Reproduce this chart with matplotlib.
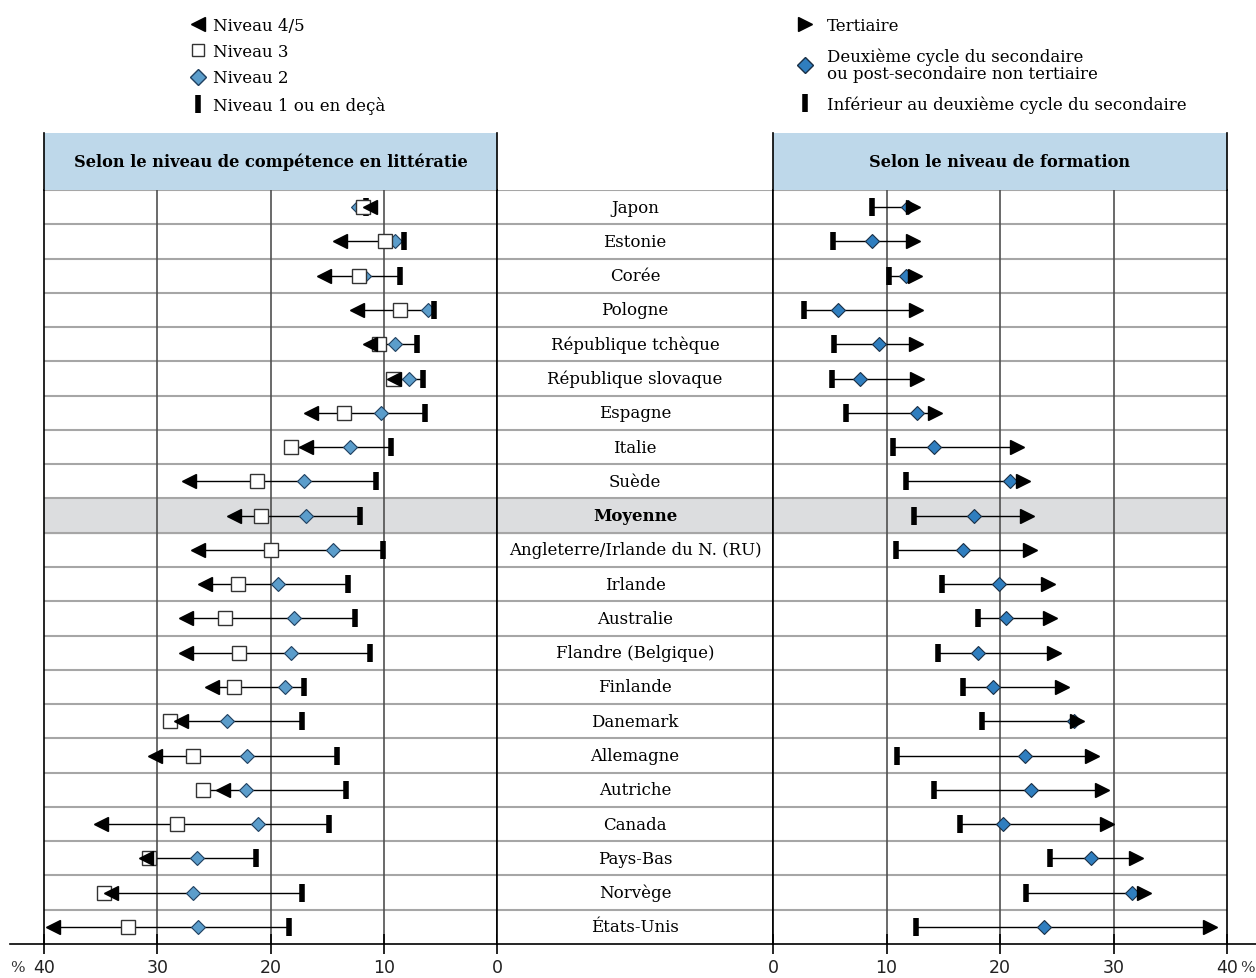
import matplotlib
matplotlib.use("Agg")
import matplotlib.pyplot as plt
from matplotlib.lines import Line2D
import numpy as np

# Pays (de haut en bas)
pays = ["Japon", "Estonie", "Corée", "Pologne", "République tchèque",
        "République slovaque", "Espagne", "Italie", "Suède", "Moyenne",
        "Angleterre/Irlande du N. (RU)", "Irlande", "Australie",
        "Flandre (Belgique)", "Finlande", "Danemark", "Allemagne", "Autriche",
        "Canada", "Pays-Bas", "Norvège", "États-Unis"]

# Selon le niveau de compétence en littératie (%)
niv45 = [11.2, 13.9, 15.3, 12.4, 11.2, 9.1, 16.4, 16.9, 27.2, 23.2, 26.4,
         25.8, 27.5, 27.5, 25.2, 27.9, 30.2, 24.2, 35.0, 31.0, 34.1, 39.2]
niv3 = [11.8, 9.9, 12.2, 8.6, 10.4, 9.2, 13.5, 18.2, 21.2, 20.8, 20.0,
        22.9, 24.0, 22.8, 23.2, 28.9, 26.8, 26.0, 28.3, 30.7, 34.7, 32.6]
niv2 = [12.3, 9.0, 11.7, 6.1, 9.0, 7.8, 10.2, 13.0, 17.0, 16.9, 14.5,
        19.3, 17.9, 18.2, 18.7, 23.8, 22.1, 22.2, 21.1, 26.5, 26.8, 26.4]
niv1 = [11.6, 8.2, 8.6, 5.6, 7.1, 6.5, 6.4, 9.4, 10.7, 12.1, 10.1,
        13.2, 12.5, 11.2, 17.0, 17.2, 14.1, 13.3, 14.8, 21.3, 17.2, 18.4]

# Selon le niveau de formation (%)
tertiaire = [12.3, 12.3, 12.5, 12.6, 12.6, 12.7, 14.3, 21.5, 22.0, 22.4, 22.6,
             24.2, 24.4, 24.8, 25.5, 26.8, 28.1, 29.0, 29.4, 32.0, 32.7, 38.5]
secondaire = [11.9, 8.7, 11.7, 5.7, 9.3, 7.7, 12.7, 14.2, 20.9, 17.7, 16.7,
              19.9, 20.5, 18.1, 19.4, 26.5, 22.2, 22.7, 20.3, 28.0, 31.6, 23.9]
inferieur = [8.7, 5.3, 10.2, 2.7, 5.4, 5.2, 6.4, 10.6, 11.7, 12.4, 10.8,
             14.9, 18.1, 14.5, 16.7, 18.4, 10.9, 14.2, 16.5, 24.4, 22.3, 12.6]

ticks = [40, 30, 20, 10, 0]

serif = "DejaVu Serif"
bleu_clair = "#5b9dcb"
bleu_fonce = "#2f7ebf"
gris_ligne = "#a6a6a6"
gris_moy = "#dcdddf"
entete = "#bed8ea"

n = len(pays)
y = np.arange(n)
i_moy = pays.index("Moyenne")

W, H = 1256, 979
fig = plt.figure(figsize=(W / 100, H / 100), dpi=100)

bas = 1 - 945 / H
haut = 1 - 191 / H
ax_g = fig.add_axes([44 / W, bas, (497 - 44) / W, haut - bas])
ax_m = fig.add_axes([497 / W, bas, (773 - 497) / W, haut - bas])
ax_d = fig.add_axes([773 / W, bas, (1227 - 773) / W, haut - bas])

for ax in (ax_g, ax_m, ax_d):
    ax.set_ylim(n - 0.5, -0.5)
    ax.axhspan(i_moy - 0.5, i_moy + 0.5, color=gris_moy, zorder=0)
    for b in np.arange(-0.5, n - 0.5):
        ax.axhline(b, color=gris_ligne, lw=1.5, zorder=1)
    ax.set_yticks([])
    ax.spines["top"].set_visible(False)
    ax.spines["bottom"].set_visible(False)
    ax.spines["left"].set_color("black")
    ax.spines["right"].set_color("black")
    ax.spines["left"].set_linewidth(1.2)
    ax.spines["right"].set_linewidth(1.2)

ax_g.set_xlim(40, 0)
ax_d.set_xlim(0, 40)
ax_m.set_xlim(0, 1)
ax_m.set_xticks([])

for ax in (ax_g, ax_d):
    for v in [10, 20, 30]:
        ax.axvline(v, color="#505050", lw=1.2, zorder=1.5)
    ax.set_xticks(ticks)
    ax.set_xticklabels([str(t) for t in ticks])
    ax.tick_params(axis="x", direction="inout", length=14, width=1.2,
                   labelsize=12.5, pad=3, color="black", labelcolor="#222222")

# littératie
for i in range(n):
    vals = [niv45[i], niv3[i], niv2[i], niv1[i]]
    ax_g.plot([min(vals), max(vals)], [i, i], color="black", lw=1, zorder=2)
ax_g.plot(niv2, y, ls="none", marker="D", ms=7.5, mfc=bleu_clair, mec="#1f3f5f",
          mew=0.8, zorder=3)
ax_g.plot(niv1, y, ls="none", marker="|", ms=13.5, mew=4, color="black", zorder=3.5)
ax_g.plot(niv3, y, ls="none", marker="s", ms=10, mfc="white", mec="#333333",
          mew=1, zorder=4)
ax_g.plot(niv45, y, ls="none", marker="<", ms=10, color="black", zorder=5)

# formation
for i in range(n):
    vals = [tertiaire[i], secondaire[i], inferieur[i]]
    ax_d.plot([min(vals), max(vals)], [i, i], color="black", lw=1, zorder=2)
ax_d.plot(inferieur, y, ls="none", marker="|", ms=13.5, mew=4, color="black", zorder=3)
ax_d.plot(secondaire, y, ls="none", marker="D", ms=7.5, mfc=bleu_fonce, mec="#1a2f45",
          mew=0.8, zorder=4)
ax_d.plot(tertiaire, y, ls="none", marker=">", ms=10, color="black", zorder=5)

# noms des pays
for i, p in enumerate(pays):
    ax_m.text(0.5, i, p, ha="center", va="center", family=serif, fontsize=12,
              fontweight="bold" if p == "Moyenne" else "normal", zorder=3)

# en-têtes
for x0, x1, titre in [(44, 497, "Selon le niveau de compétence en littératie"),
                      (773, 1227, "Selon le niveau de formation")]:
    axh = fig.add_axes([x0 / W, haut, (x1 - x0) / W, (191 - 134) / H])
    axh.set_facecolor(entete)
    axh.set_xticks([])
    axh.set_yticks([])
    axh.spines["top"].set_visible(False)
    axh.spines["bottom"].set_visible(False)
    axh.spines["left"].set_linewidth(1.2)
    axh.spines["right"].set_linewidth(1.2)
    axh.text(0.5, 0.5, titre, ha="center", va="center", family=serif,
             fontsize=11.7, fontweight="bold", transform=axh.transAxes)

# ligne d'axe en bas
fig.add_artist(Line2D([10 / W, 1], [bas, bas], color="black", lw=1.2))
fig.text(10 / W, 1 - 968 / H, "%", family=serif, fontsize=11, va="center", ha="left",
         color="#333333")
fig.text(1240 / W, 1 - 968 / H, "%", family=serif, fontsize=11, va="center", ha="left",
         color="#333333")

# légendes
leg_g = [Line2D([], [], ls="none", marker="<", ms=10, color="black"),
         Line2D([], [], ls="none", marker="s", ms=9, mfc="white", mec="#333333"),
         Line2D([], [], ls="none", marker="D", ms=8, mfc=bleu_clair, mec="#1f3f5f"),
         Line2D([], [], ls="none", marker="|", ms=13, mew=4, color="black")]
fig.legend(leg_g, ["Niveau 4/5", "Niveau 3", "Niveau 2", "Niveau 1 ou en deçà"],
           loc="upper left", bbox_to_anchor=(175 / W, 1 - 3 / H), frameon=False,
           handlelength=1, handletextpad=0.38, labelspacing=0.55,
           prop={"family": serif, "size": 12})

leg_d = [Line2D([], [], ls="none", marker=">", ms=10, color="black"),
         Line2D([], [], ls="none", marker="D", ms=8, mfc=bleu_fonce, mec="#1a2f45"),
         Line2D([], [], ls="none", marker="|", ms=13, mew=4, color="black")]
lg = fig.legend(leg_d, ["Tertiaire",
                        "Deuxième cycle du secondaire\nou post-secondaire non tertiaire",
                        "Inférieur au deuxième cycle du secondaire"],
                loc="upper left", bbox_to_anchor=(782 / W, 1 - 3 / H), frameon=False,
                handlelength=1, handletextpad=0.8, labelspacing=0.8,
                prop={"family": serif, "size": 12})
for t in lg.get_texts():
    t.set_linespacing(1.0)

fig.savefig("out.png", dpi=100)
